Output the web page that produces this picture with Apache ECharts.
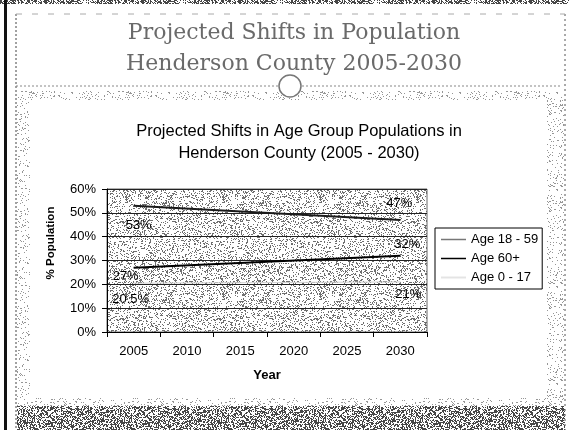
<!DOCTYPE html>
<html>
<head>
<meta charset="utf-8">
<style>
  html, body { margin: 0; padding: 0; background: #fff; }
  #chart { width: 571px; height: 430px; }
</style>
<script src="https://cdn.jsdelivr.net/npm/echarts@6/dist/echarts.min.js"></script>
</head>
<body>
<div id="chart"></div>
<script>
// Projected age-group shares, Henderson County
const years = ['2005', '2010', '2015', '2020', '2025', '2030'];
// Only the end years are published; the line joins them directly.
const age18to59 = [53, null, null, null, null, 47];
const age60plus = [27, null, null, null, null, 32];
const age0to17 = [20.5, null, null, null, null, 21];
const yTicks = [0, 10, 20, 30, 40, 50, 60];

const FONT = 'Liberation Sans, Arial, sans-serif';

// Small repeating stipple tile (deterministic hash, gives the halftone look)
function hash(x, y, s) {
  let h = (x * 374761393 + y * 668265263 + s * 982451653) | 0;
  h = Math.imul(h ^ (h >>> 13), 1274126177);
  h = h ^ (h >>> 16);
  return (h >>> 0) / 4294967296;
}
function stipple(density, shade, seed) {
  const size = 97;
  const c = document.createElement('canvas');
  c.width = c.height = size;
  const ctx = c.getContext('2d');
  const img = ctx.createImageData(size, size);
  for (let y = 0; y < size; y++) {
    for (let x = 0; x < size; x++) {
      const i = (y * size + x) * 4;
      const on = hash(x, y, seed) < density;
      const v = on ? shade : 255;
      img.data[i] = img.data[i + 1] = img.data[i + 2] = v;
      img.data[i + 3] = 255;
    }
  }
  ctx.putImageData(img, 0, 0);
  return { image: c, repeat: 'repeat' };
}
const plotFill = stipple(0.24, 110, 1);
const lightFill = stipple(0.10, 150, 2);
const darkFill = stipple(0.50, 70, 3);

// Per-point label placement for the first and last year
function withLabels(values, startOffset, endOffset) {
  return values.map((v, i) => {
    if (v == null) return null;
    const off = i === 0 ? startOffset : endOffset;
    return { value: v, label: { offset: off } };
  });
}

const labelBase = {
  show: true,
  position: 'top',
  distance: 0,
  formatter: '{c}%',
  color: '#000',
  fontSize: 13,
  fontFamily: FONT
};

const chart = echarts.init(document.getElementById('chart'), null, { renderer: 'canvas' });

chart.setOption({
  backgroundColor: '#fff',
  animation: false,
  title: [
    {
      text: 'Projected Shifts in Population\nHenderson County 2005-2030',
      left: 289,
      top: 13,
      textAlign: 'center',
      textStyle: {
        fontFamily: 'DejaVu Serif, Liberation Serif, serif',
        fontWeight: 'normal',
        fontSize: 22,
        lineHeight: 31,
        color: '#6a6a6a'
      }
    },
    {
      text: 'Projected Shifts in Age Group Populations in\nHenderson County (2005 - 2030)',
      left: 294,
      top: 115,
      textAlign: 'center',
      textStyle: {
        fontFamily: FONT,
        fontWeight: 'normal',
        fontSize: 16.5,
        lineHeight: 22,
        color: '#000'
      }
    }
  ],
  graphic: [
    // slide frame and scanned bands
    { type: 'rect', z: -10, shape: { x: 0, y: 0, width: 571, height: 4 }, style: { fill: darkFill } },
    { type: 'rect', z: -10, shape: { x: 4, y: 0, width: 3, height: 430 }, style: { fill: '#111' } },
    { type: 'line', z: -9, shape: { x1: 16, y1: 14, x2: 16, y2: 430 }, style: { stroke: '#444', lineWidth: 1, lineDash: [2, 2] } },
    { type: 'line', z: -9, shape: { x1: 565, y1: 14, x2: 565, y2: 430 }, style: { stroke: '#555', lineWidth: 1, lineDash: [2, 3] } },
    { type: 'line', z: -9, shape: { x1: 16, y1: 14, x2: 565, y2: 14 }, style: { stroke: '#aaa', lineWidth: 1, lineDash: [6, 10] } },
    { type: 'line', z: -9, shape: { x1: 16, y1: 86, x2: 278, y2: 86 }, style: { stroke: '#888', lineWidth: 1, lineDash: [2, 2] } },
    { type: 'line', z: -9, shape: { x1: 302, y1: 86, x2: 560, y2: 86 }, style: { stroke: '#888', lineWidth: 1, lineDash: [2, 2] } },
    { type: 'circle', z: -8, shape: { cx: 290, cy: 86, r: 11 }, style: { fill: '#fff', stroke: '#777', lineWidth: 1.5 } },
    { type: 'rect', z: -10, shape: { x: 17, y: 91, width: 547, height: 9 }, style: { fill: lightFill } },
    { type: 'rect', z: -10, shape: { x: 17, y: 100, width: 13, height: 306 }, style: { fill: lightFill } },
    { type: 'rect', z: -10, shape: { x: 547, y: 100, width: 17, height: 306 }, style: { fill: lightFill } },
    { type: 'rect', z: -10, shape: { x: 17, y: 398, width: 547, height: 8 }, style: { fill: lightFill } },
    { type: 'rect', z: -10, shape: { x: 17, y: 406, width: 548, height: 24 }, style: { fill: darkFill } },
    // rotated value-axis caption
    {
      type: 'text',
      x: 51,
      y: 243,
      rotation: Math.PI / 2,
      style: {
        text: '% Population',
        fontFamily: FONT,
        fontWeight: 'bold',
        fontSize: 11.5,
        fill: '#000',
        align: 'center',
        verticalAlign: 'middle'
      }
    }
  ],
  legend: {
    orient: 'vertical',
    left: 435,
    top: 228,
    padding: [5, 4, 5, 5],
    itemGap: 6,
    itemWidth: 25,
    itemHeight: 14,
    borderColor: '#000',
    borderWidth: 1,
    borderRadius: 0,
    backgroundColor: '#fff',
    textStyle: { fontFamily: FONT, fontSize: 13, color: '#000' },
    data: [
      { name: 'Age 18 - 59', lineStyle: { color: '#777', width: 1.5 }, itemStyle: { opacity: 0 } },
      { name: 'Age 60+', lineStyle: { width: 1.5 }, itemStyle: { opacity: 0 } },
      { name: 'Age 0 - 17', lineStyle: { color: '#e4e4e4' }, itemStyle: { opacity: 0 } }
    ]
  },
  grid: {
    left: 107,
    top: 189,
    width: 320,
    height: 143,
    show: true,
    backgroundColor: plotFill,
    borderColor: '#666',
    borderWidth: 1
  },
  xAxis: {
    type: 'category',
    data: years,
    boundaryGap: true,
    axisLine: { lineStyle: { color: '#000', width: 1 } },
    axisTick: { show: true, length: 5, lineStyle: { color: '#000' } },
    axisLabel: { color: '#000', fontSize: 13, fontFamily: FONT, margin: 13 },
    name: 'Year',
    nameLocation: 'middle',
    nameGap: 37,
    nameTextStyle: { color: '#000', fontSize: 13, fontWeight: 'bold', fontFamily: FONT }
  },
  yAxis: {
    type: 'value',
    min: yTicks[0],
    max: yTicks[yTicks.length - 1],
    interval: yTicks[1] - yTicks[0],
    axisLine: { show: true, lineStyle: { color: '#000', width: 1 } },
    axisTick: { show: true, length: 5, lineStyle: { color: '#000' } },
    axisLabel: { color: '#000', fontSize: 13, fontFamily: FONT, margin: 11, formatter: '{value}%' },
    splitLine: { show: true, lineStyle: { color: '#222', width: 1 } }
  },
  series: [
    {
      name: 'Age 18 - 59',
      type: 'line',
      data: withLabels(age18to59, [5, 26], [-1, -10]),
      connectNulls: true,
      symbol: 'circle',
      symbolSize: 0.5,
      itemStyle: { color: '#1a1a1a' },
      lineStyle: { color: '#1a1a1a', width: 2 },
      label: labelBase
    },
    {
      name: 'Age 60+',
      type: 'line',
      data: withLabels(age60plus, [-8, 16], [7, -5]),
      connectNulls: true,
      symbol: 'circle',
      symbolSize: 0.5,
      itemStyle: { color: '#000' },
      lineStyle: { color: '#000', width: 2 },
      label: labelBase
    },
    {
      name: 'Age 0 - 17',
      type: 'line',
      data: withLabels(age0to17, [-3, 23], [8, 19]),
      connectNulls: true,
      symbol: 'circle',
      symbolSize: 0.5,
      itemStyle: { color: '#d0d0d0' },
      lineStyle: { color: '#d0d0d0', width: 1 },
      label: labelBase
    }
  ]
});
</script>
</body>
</html>
